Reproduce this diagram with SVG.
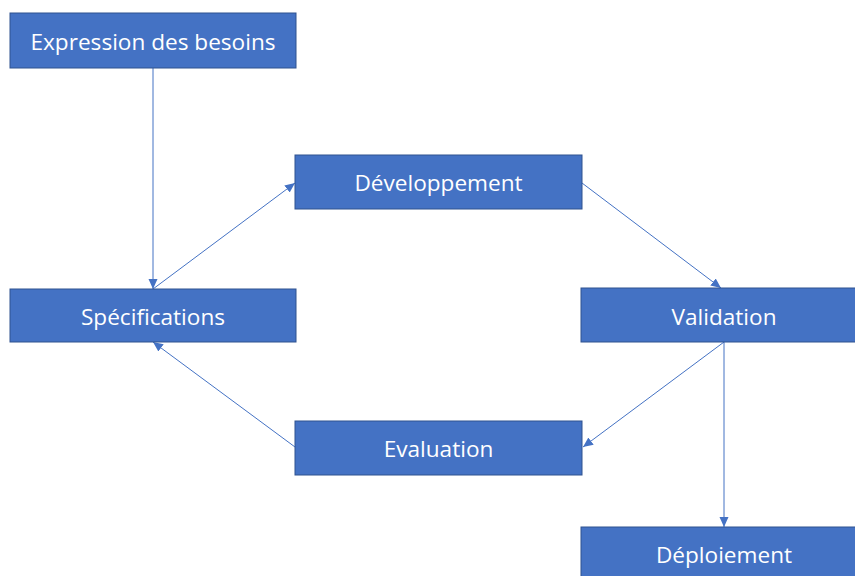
<svg xmlns="http://www.w3.org/2000/svg" width="855" height="576" viewBox="0 0 855 576">
<style>
.box{fill:#4472C4;stroke:#2F528F;stroke-width:1}
.lbl{font-family:"Open Sans","Liberation Sans",sans-serif;font-size:22.6px;fill:#ffffff;text-anchor:middle}
.conn{stroke:#4472C4;stroke-width:1;fill:none;marker-end:url(#arr)}
</style>
<defs>
<marker id="arr" viewBox="0 0 10 10" refX="10" refY="5" markerWidth="10" markerHeight="10" markerUnits="userSpaceOnUse" orient="auto">
<path d="M0,0.5 L10,5 L0,9.5 Z" fill="#4472C4"/>
</marker>
</defs>
<rect width="855" height="576" fill="#ffffff"/>
<g id="connectors">
<line class="conn" x1="153" y1="68" x2="153" y2="289"/>
<line class="conn" x1="153" y1="289" x2="295" y2="183"/>
<line class="conn" x1="582" y1="183" x2="721" y2="288"/>
<line class="conn" x1="724" y1="342" x2="583" y2="447"/>
<line class="conn" x1="724" y1="342" x2="724" y2="527"/>
<line class="conn" x1="295" y1="447" x2="153" y2="342"/>
</g>
<g id="expression">
<rect class="box" x="10" y="13" width="286" height="55"/>
<text class="lbl" x="153" y="49.5">Expression des besoins</text>
</g>
<g id="developpement">
<rect class="box" x="295" y="155" width="287" height="54"/>
<text class="lbl" x="438.5" y="191">Développement</text>
</g>
<g id="specifications">
<rect class="box" x="10" y="289" width="286" height="53"/>
<text class="lbl" x="153" y="324.5">Spécifications</text>
</g>
<g id="validation">
<rect class="box" x="581" y="288" width="286" height="54"/>
<text class="lbl" x="724" y="324.5">Validation</text>
</g>
<g id="evaluation">
<rect class="box" x="295" y="421" width="287" height="54"/>
<text class="lbl" x="438.5" y="457">Evaluation</text>
</g>
<g id="deploiement">
<rect class="box" x="581" y="527" width="286" height="54"/>
<text class="lbl" x="724" y="563">Déploiement</text>
</g>
</svg>
